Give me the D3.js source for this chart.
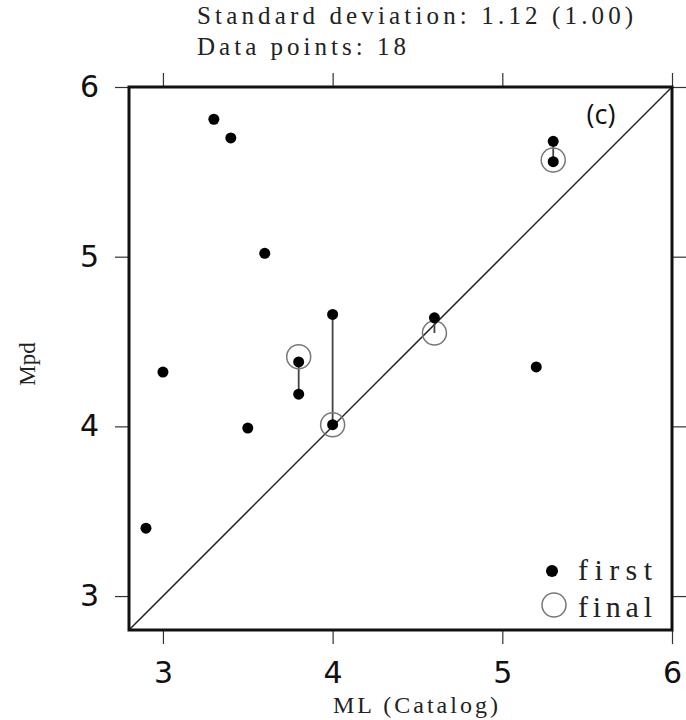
<!DOCTYPE html>
<html>
<head>
<meta charset="utf-8">
<script src="https://cdn.jsdelivr.net/npm/d3@7"></script>
<style>
  body { margin: 0; background: #fff; }
</style>
</head>
<body>
<div id="chart"></div>
<script>
// first estimates (filled dots)
const firstX = [3.3, 3.4, 3.6, 3.0, 3.5, 2.9, 3.8, 3.8, 4.0, 4.0, 4.6, 5.2, 5.3, 5.3];
const firstY = [5.81, 5.70, 5.02, 4.32, 3.99, 3.40, 4.38, 4.19, 4.66, 4.01, 4.64, 4.35, 5.68, 5.56];
// final estimates (open circles)
const finalX = [3.8, 4.0, 4.6, 5.3];
const finalY = [4.41, 4.01, 4.55, 5.57];
// vertical links between estimates of the same event
const linkX = [3.8, 4.0, 4.6, 5.3];
const linkLow = [4.19, 4.01, 4.55, 5.56];
const linkHigh = [4.38, 4.66, 4.64, 5.68];
const ticks = [3, 4, 5, 6];
const infoLines = ["Standard deviation: 1.12 (1.00)", "Data points: 18"];
const legendLabels = ["first", "final"];

const width = 686, height = 720;
const margin = {left: 129, right: 14, top: 87, bottom: 90};
const serifFont = "'Liberation Serif', 'DejaVu Serif', serif";
const sansFont = "'DejaVu Sans', Verdana, sans-serif";
const charW = 14.2; // the labels use a fixed-pitch serif face

const svg = d3.select("#chart").append("svg")
    .attr("width", width)
    .attr("height", height);

const x = d3.scaleLinear().domain([2.8, 6]).range([margin.left, width - margin.right]);
const y = d3.scaleLinear().domain([2.8, 6]).range([height - margin.bottom, margin.top]);

// axes, ticks outside on every side
function styleAxis(g, showLabels) {
    g.select(".domain").remove();
    g.selectAll(".tick line").attr("stroke", "#333").attr("stroke-width", 1.2);
    g.selectAll(".tick text")
        .attr("font-family", sansFont)
        .attr("font-size", 30)
        .attr("fill", "#111");
    if (!showLabels) g.selectAll(".tick text").remove();
}

svg.append("g")
    .attr("transform", `translate(0,${y(2.8)})`)
    .call(d3.axisBottom(x).tickValues(ticks).tickSize(14).tickPadding(18).tickFormat(d3.format("d")))
    .call(g => styleAxis(g, true));

svg.append("g")
    .attr("transform", `translate(${x(2.8)},0)`)
    .call(d3.axisLeft(y).tickValues(ticks).tickSize(14).tickPadding(16).tickFormat(d3.format("d")))
    .call(g => styleAxis(g, true));

svg.append("g")
    .attr("transform", `translate(0,${y(6)})`)
    .call(d3.axisTop(x).tickValues(ticks).tickSize(14))
    .call(g => styleAxis(g, false));

svg.append("g")
    .attr("transform", `translate(${x(6)},0)`)
    .call(d3.axisRight(y).tickValues(ticks).tickSize(14))
    .call(g => styleAxis(g, false));

// 1:1 line
svg.append("line")
    .attr("x1", x(2.8)).attr("y1", y(2.8))
    .attr("x2", x(6)).attr("y2", y(6))
    .attr("stroke", "#222")
    .attr("stroke-width", 1.5);

// links
svg.selectAll(".link")
    .data(linkX)
    .join("line")
    .attr("class", "link")
    .attr("x1", d => x(d)).attr("x2", d => x(d))
    .attr("y1", (d, i) => y(linkLow[i]))
    .attr("y2", (d, i) => y(linkHigh[i]))
    .attr("stroke", "#444")
    .attr("stroke-width", 1.8);

// final circles
svg.selectAll(".final")
    .data(finalX)
    .join("circle")
    .attr("class", "final")
    .attr("cx", d => x(d))
    .attr("cy", (d, i) => y(finalY[i]))
    .attr("r", 12)
    .attr("fill", "none")
    .attr("stroke", "#777")
    .attr("stroke-width", 1.5);

// first dots
svg.selectAll(".first")
    .data(firstX)
    .join("circle")
    .attr("class", "first")
    .attr("cx", d => x(d))
    .attr("cy", (d, i) => y(firstY[i]))
    .attr("r", 5.5)
    .attr("fill", "#000");

// frame
svg.append("rect")
    .attr("x", x(2.8)).attr("y", y(6))
    .attr("width", x(6) - x(2.8))
    .attr("height", y(2.8) - y(6))
    .attr("fill", "none")
    .attr("stroke", "#111")
    .attr("stroke-width", 3);

// panel tag
svg.append("text")
    .attr("x", 601).attr("y", 124)
    .attr("text-anchor", "middle")
    .attr("font-family", "'Open Sans', sans-serif")
    .attr("font-size", 27)
    .attr("fill", "#111")
    .text("(c)");

// info text above the plot
svg.selectAll(".info")
    .data(infoLines)
    .join("text")
    .attr("class", "info")
    .attr("x", 197)
    .attr("y", (d, i) => 24 + i * 31)
    .attr("font-family", serifFont)
    .attr("font-size", 25)
    .attr("textLength", d => d.length * charW - 4)
    .attr("lengthAdjust", "spacing")
    .attr("fill", "#222")
    .text(d => d);

// legend
const legend = svg.append("g");
legend.append("circle")
    .attr("cx", 552).attr("cy", 571)
    .attr("r", 6).attr("fill", "#000");
legend.append("circle")
    .attr("cx", 554).attr("cy", 605)
    .attr("r", 12).attr("fill", "none")
    .attr("stroke", "#777").attr("stroke-width", 1.5);
legend.selectAll("text")
    .data(legendLabels)
    .join("text")
    .attr("x", 578)
    .attr("y", (d, i) => 580 + i * 37)
    .attr("font-family", serifFont)
    .attr("font-size", 30)
    .attr("textLength", 74)
    .attr("lengthAdjust", "spacing")
    .attr("fill", "#222")
    .text(d => d);

// axis titles
svg.append("text")
    .attr("x", 333).attr("y", 713)
    .attr("font-family", serifFont)
    .attr("font-size", 24)
    .attr("textLength", 165)
    .attr("lengthAdjust", "spacing")
    .attr("fill", "#222")
    .text("ML (Catalog)");

svg.append("text")
    .attr("transform", `translate(35,364) rotate(-90)`)
    .attr("text-anchor", "middle")
    .attr("font-family", serifFont)
    .attr("font-size", 23)
    .attr("fill", "#222")
    .text("Mpd");
</script>
</body>
</html>
